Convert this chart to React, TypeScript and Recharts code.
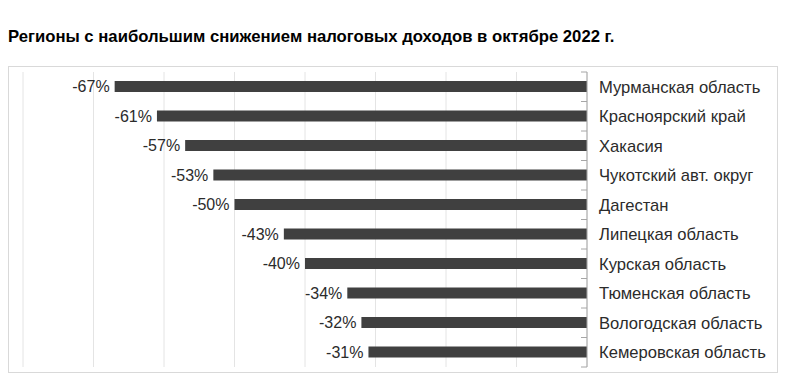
import { BarChart, Bar, XAxis, YAxis, CartesianGrid, LabelList } from "recharts"

const regions = [
  "Мурманская область",
  "Красноярский край",
  "Хакасия",
  "Чукотский авт. округ",
  "Дагестан",
  "Липецкая область",
  "Курская область",
  "Тюменская область",
  "Вологодская область",
  "Кемеровская область",
]

const decline = [-67, -61, -57, -53, -50, -43, -40, -34, -32, -31]

const xTicks = [-80, -70, -60, -50, -40, -30, -20, -10, 0]

const data = regions.map((name, i) => ({ name, value: decline[i] }))

const font = "'Liberation Sans', Arial, sans-serif"
const band = 29.5

function RegionTick(props: any) {
  const { x, y, payload, index } = props
  const ax = x - 12
  return (
    <g>
      <line x1={ax - 6} x2={ax} y1={y - band / 2} y2={y - band / 2} stroke="#a6a6a6" />
      {index === regions.length - 1 && (
        <line x1={ax - 6} x2={ax} y1={y + band / 2} y2={y + band / 2} stroke="#a6a6a6" />
      )}
      <text x={x} y={y} dy="0.35em" fontSize={16.6} fill="#2b2b2b" fontFamily={font}>
        {payload.value}
      </text>
    </g>
  )
}

function ValueLabel(props: any) {
  const { x, y, width, height, value } = props
  const left = width < 0 ? x + width : x
  return (
    <text
      x={left - 5}
      y={y + height / 2}
      dy="0.35em"
      textAnchor="end"
      fontSize={16}
      fill="#2b2b2b"
      fontFamily={font}
    >
      {value}%
    </text>
  )
}

export default function App() {
  return (
    <div style={{ position: "relative", width: 772, height: 371, fontFamily: font }}>
      <div
        style={{
          position: "absolute",
          left: 0,
          top: 20,
          fontSize: 16.7,
          lineHeight: "18px",
          fontWeight: "bold",
          color: "#000",
          whiteSpace: "nowrap",
        }}
      >
        Регионы с наибольшим снижением налоговых доходов в октябре 2022 г.
      </div>
      <div
        style={{
          position: "absolute",
          left: 0,
          top: 58,
          width: 768,
          height: 305,
          border: "1px solid #d9d9d9",
        }}
      >
        <BarChart
          width={768}
          height={305}
          data={data}
          layout="vertical"
          margin={{ top: 5, right: 0, bottom: 5, left: 14 }}
          barSize={11}
        >
          <CartesianGrid horizontal={false} stroke="#e4e4e4" />
          <XAxis type="number" domain={[-80, 0]} ticks={xTicks} hide />
          <YAxis
            type="category"
            dataKey="name"
            orientation="right"
            width={190}
            axisLine={{ stroke: "#a6a6a6" }}
            tickLine={false}
            tickSize={0}
            tickMargin={12}
            tick={<RegionTick />}
            interval={0}
          />
          <Bar dataKey="value" fill="#404040" isAnimationActive={false}>
            <LabelList dataKey="value" content={<ValueLabel />} />
          </Bar>
        </BarChart>
      </div>
    </div>
  )
}
